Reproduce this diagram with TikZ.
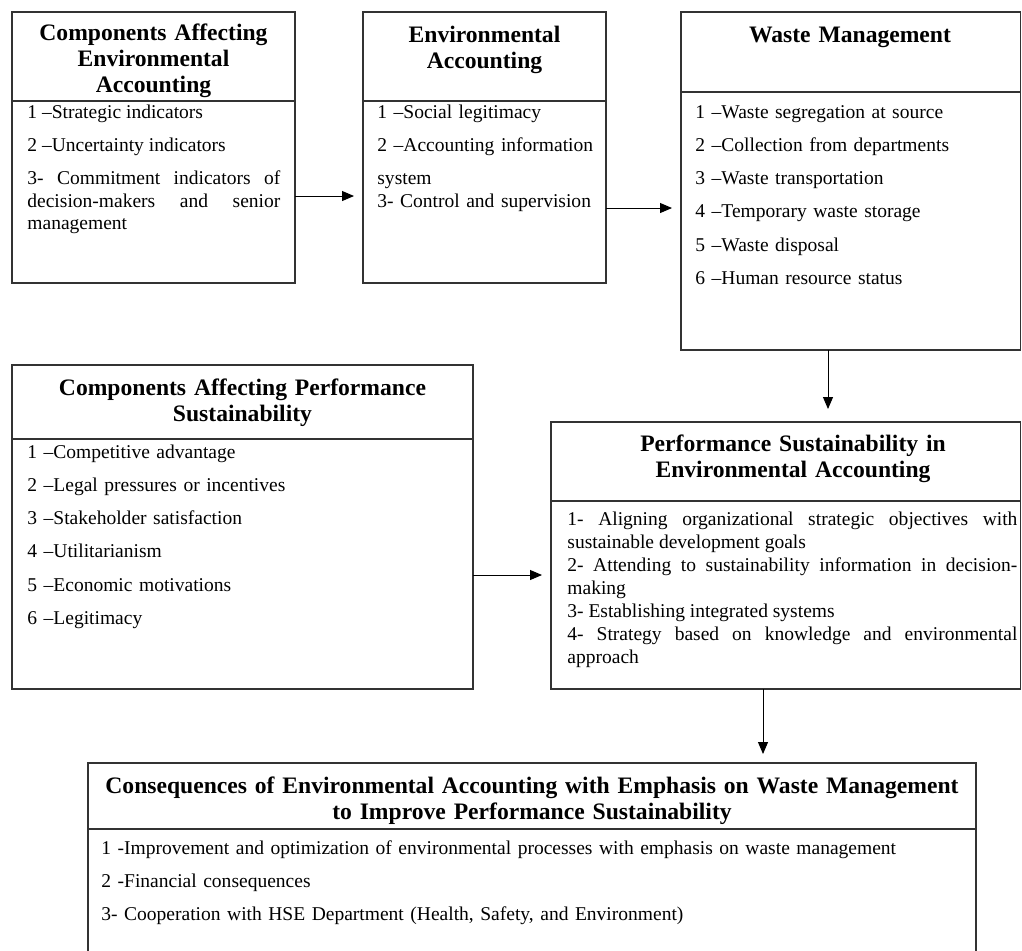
\documentclass[tikz,border=0pt]{standalone}
\usepackage{fontspec}
\setmainfont{Liberation Serif}
\usetikzlibrary{arrows.meta, positioning}

\newcommand{\itemgap}{\par\vspace{5.35pt}}

\begin{document}
\begin{tikzpicture}[x=0.5pt, y=-0.5pt,
    boxframe/.style={draw=black!80, line width=0.7pt, inner sep=0pt, outer sep=0pt, anchor=north west},
    divline/.style={draw=black!80, line width=0.7pt},
    boxhead/.style={font=\fontsize{11.8}{13}\selectfont\bfseries, align=center, inner sep=0pt, anchor=base},
    boxitems/.style={font=\fontsize{9.76}{11.3}\selectfont, inner sep=0pt, anchor=base west, align=left},
    flowarrow/.style={-{Triangle[length=6pt, width=5pt]}, line width=0.5pt, shorten >=4.5pt}]
  \useasboundingbox (0,0) rectangle (1022,950);

  % frames
  \node[boxframe, minimum width=141.5pt, minimum height=135.5pt] (cae) at (12,12) {};
  \node[boxframe, minimum width=121.5pt, minimum height=135.5pt] (ea) at (363,12) {};
  \node[boxframe, minimum width=169.75pt, minimum height=169pt] (wm) at (681,12) {};
  \node[boxframe, minimum width=230.5pt, minimum height=162pt] (caps) at (12,365) {};
  \node[boxframe, minimum width=234.75pt, minimum height=133.5pt] (pse) at (551,422) {};
  \node[boxframe, minimum width=444pt, minimum height=103.5pt] (cons) at (88,763) {};

  % title rules
  \draw[divline] (cae.west |- 0,101) -- (cae.east |- 0,101);
  \draw[divline] (ea.west |- 0,101) -- (ea.east |- 0,101);
  \draw[divline] (wm.west |- 0,92) -- (wm.east |- 0,92);
  \draw[divline] (caps.west |- 0,439) -- (caps.east |- 0,439);
  \draw[divline] (pse.west |- 0,501) -- (pse.east |- 0,501);
  \draw[divline] (cons.west |- 0,829) -- (cons.east |- 0,829);

  % titles
  \node[boxhead, text width=130pt] (caeh) at (153.5,40) {Components Affecting\\ Environmental\\ Accounting};
  \node[boxhead, text width=115pt] (eah) at (484.5,42) {Environmental\\ Accounting};
  \node[boxhead, text width=160pt] (wmh) at (850,42) {Waste Management};
  \node[boxhead, text width=220pt] (capsh) at (242.5,395) {Components Affecting Performance\\ Sustainability};
  \node[boxhead, text width=230pt] (pseh) at (793,451) {Performance Sustainability in\\ Environmental Accounting};
  \node[boxhead, text width=440pt] (consh) at (532,793) {Consequences of Environmental Accounting with Emphasis on Waste Management\\ to Improve Performance Sustainability};

  % lists
  \node[boxitems, text width=126.5pt, align=justify] (caei) at (27,118) {%
    1 –Strategic indicators\itemgap
    2 –Uncertainty indicators\itemgap
    3- Commitment indicators of\linebreak decision-makers and senior\linebreak management};
  \node[boxitems, text width=112pt] (eai) at (377,118) {%
    1 –Social legitimacy\itemgap
    2 –Accounting information\itemgap
    system\\
    3- Control and supervision};
  \node[boxitems, text width=155pt] (wmi) at (695,118) {%
    1 –Waste segregation at source\itemgap
    2 –Collection from departments\itemgap
    3 –Waste transportation\itemgap
    4 –Temporary waste storage\itemgap
    5 –Waste disposal\itemgap
    6 –Human resource status};
  \node[boxitems, text width=210pt] (capsi) at (27,458) {%
    1 –Competitive advantage\itemgap
    2 –Legal pressures or incentives\itemgap
    3 –Stakeholder satisfaction\itemgap
    4 –Utilitarianism\itemgap
    5 –Economic motivations\itemgap
    6 –Legitimacy};
  \node[boxitems, text width=225pt, align=justify, font=\fontsize{9.76}{11.5}\selectfont] (psei) at (567,525) {%
    1- Aligning organizational strategic objectives with\linebreak sustainable development goals\par
    2- Attending to sustainability information in decision-\linebreak making\par
    3- Establishing integrated systems\par
    4- Strategy based on knowledge and environmental\linebreak approach};
  \node[boxitems, text width=430pt] (consi) at (101,854) {%
    1 -Improvement and optimization of environmental processes with emphasis on waste management\itemgap
    2 -Financial consequences\itemgap
    3- Cooperation with HSE Department (Health, Safety, and Environment)};

  % arrows
  \draw[flowarrow] (cae.east |- 0,196) -- (ea.west |- 0,196);
  \draw[flowarrow] (ea.east |- 0,208) -- (wm.west |- 0,208);
  \draw[flowarrow, shorten >=6.5pt] (wm.south -| 828,0) -- (pse.north -| 828,0);
  \draw[flowarrow] (caps.east |- 0,575) -- (pse.west |- 0,575);
  \draw[flowarrow] (pse.south -| 763,0) -- (cons.north -| 763,0);
\end{tikzpicture}
\end{document}
